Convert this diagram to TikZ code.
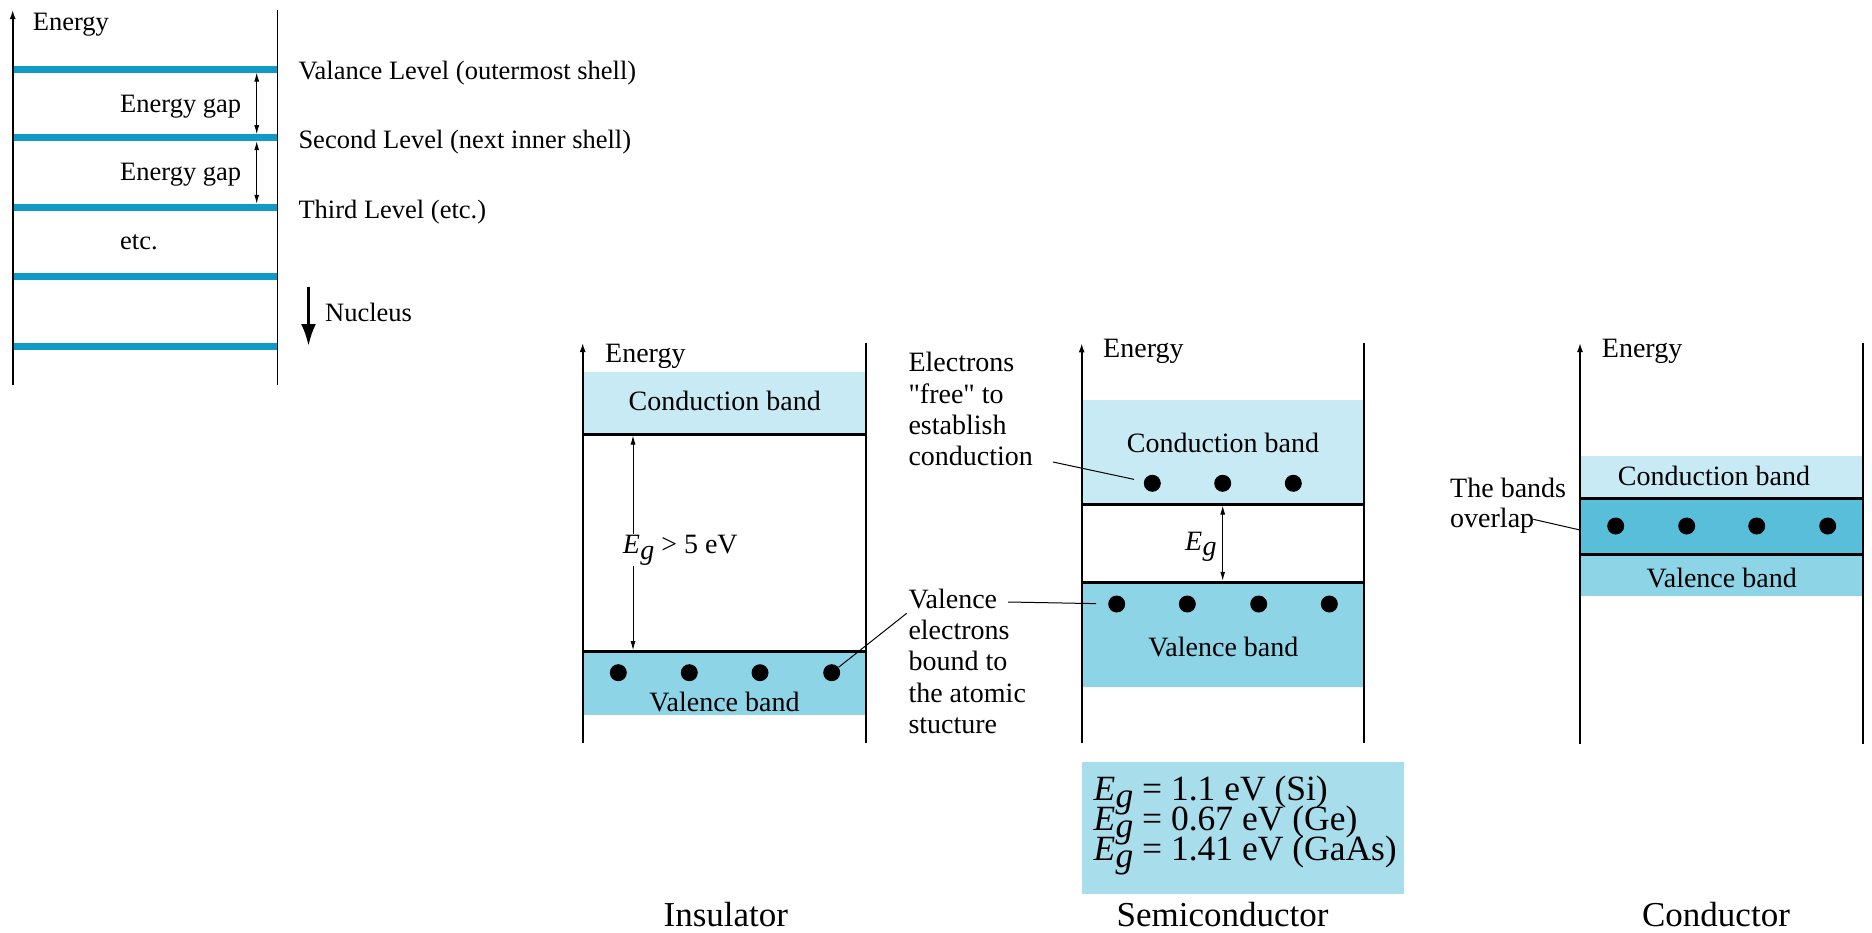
\documentclass[tikz,border=0pt]{standalone}
\usepackage{fontspec}
\setmainfont{Liberation Serif}
\newfontfamily\plainrm{Liberation Serif}
\usetikzlibrary{arrows.meta}
\definecolor{condcol}{RGB}{200,234,244}
\definecolor{valcol}{RGB}{142,212,231}
\definecolor{overcol}{RGB}{88,190,218}
\definecolor{boxcol}{RGB}{168,221,236}
\definecolor{levelcol}{RGB}{16,154,198}
\newcommand{\Eg}{\textit{E}\kern0.01em\raisebox{-0.45ex}{\textit{g}}}
\newcommand{\mystack}[2]{\vtop{\baselineskip=#1\lineskiplimit=-100pt\lineskip=0pt\relax #2}}
\begin{document}
\begin{tikzpicture}[x=1pt,y=-1pt,
  axis/.style={line width=1.6pt,-{Latex[length=9pt,width=6pt]}},
  wall/.style={line width=1.6pt},
  level/.style={line width=7pt,draw=levelcol},
  edge/.style={line width=3pt},
  gaparrow/.style={line width=1pt,{Latex[length=9pt,width=5pt]}-{Latex[length=9pt,width=5pt]}},
  leader/.style={line width=1pt},
  dot/.style={circle,fill=black,minimum size=17pt,inner sep=0pt},
  lbl/.style={inner sep=0pt,font=\fontsize{28}{31.3}\selectfont},
  sml/.style={inner sep=0pt,font=\fontsize{26.5}{30}\selectfont},
  big/.style={inner sep=0pt,font=\fontsize{35}{30}\selectfont}]
\useasboundingbox (0,0) rectangle (1872,932);

% ---------- atomic levels ----------
\foreach \y in {69,137.7,207.3,276.7,346.7} \draw[level] (12.7,\y) -- (277.3,\y);
\coordinate (a0b) at (12.7,385); \coordinate (a0t) at (12.7,10);
\draw[axis] (a0b) -- (a0t);
\coordinate (w0t) at (277.3,10); \coordinate (w0b) at (277.3,385);
\draw[wall] (w0t) -- (w0b);
\node[sml,anchor=base west] (e0) at (32.7,30) {Energy};
\node[sml,anchor=base west] (gap1) at (120,112) {Energy gap};
\node[sml,anchor=base west] (gap2) at (120,180.5) {Energy gap};
\node[sml,anchor=base west] (etc) at (120,249) {etc.};
\coordinate (g1a) at (256.7,72.5); \coordinate (g1b) at (256.7,134.2);
\coordinate (g2a) at (256.7,141.2); \coordinate (g2b) at (256.7,203.8);
\draw[gaparrow] (g1a) -- (g1b);
\draw[gaparrow] (g2a) -- (g2b);
\node[sml,anchor=base west] (lv1) at (298.3,79.3) {Valance Level (outermost shell)};
\node[sml,anchor=base west] (lv2) at (298.3,148.3) {Second Level (next inner shell)};
\node[sml,anchor=base west] (lv3) at (298.3,218.3) {Third Level (etc.)};
\coordinate (n1) at (308.5,286.7); \coordinate (n2) at (308.5,346);
\draw[line width=3pt,-{Latex[length=22pt,width=15pt]}] (n1) -- (n2);
\node[sml,anchor=base west] (nuc) at (325,321.7) {Nucleus};

% ---------- insulator ----------
\fill[condcol] (582.7,371.7) rectangle (865.7,434);
\fill[valcol] (582.7,651.7) rectangle (865.7,715);
\draw[edge] (582.7,434) -- (865.7,434);
\draw[edge] (582.7,651.7) -- (865.7,651.7);
\coordinate (a1b) at (582.7,743); \coordinate (a1t) at (582.7,343);
\draw[axis] (a1b) -- (a1t);
\coordinate (w1t) at (865.7,343); \coordinate (w1b) at (865.7,743);
\draw[wall] (w1t) -- (w1b);
\node[lbl,anchor=base west] (e1) at (605,362.3) {Energy};
\node[lbl,anchor=base] (ic) at (724.7,410.7) {Conduction band};
\node[lbl,anchor=base] (iv) at (724.5,711.7) {Valence band};
\coordinate (ig1) at (633,435.5); \coordinate (ig2) at (633,650.2);
\draw[gaparrow] (ig1) -- (ig2);
\node[lbl,anchor=base west,fill=white,inner sep=1pt] (ieg) at (621.7,553.3) {\Eg{} > 5 eV};
\foreach \x [count=\i] in {618.3,689.3,760,831.7} \node[dot] (i\i) at (\x,672.7) {};

% ---------- annotations ----------
\node[lbl,anchor=base west] (free) at (908.3,371.7) {\mystack{31.4pt}{\hbox{Electrons}\hbox{\plainrm "free" to}\hbox{establish}\hbox{conduction}}};
\node[lbl,anchor=base west] (bound) at (908.3,608.3) {\mystack{31.25pt}{\hbox{Valence}\hbox{electrons}\hbox{bound to}\hbox{the atomic}\hbox{stucture}}};
\coordinate (ivs) at (906.7,613.3);
\draw[leader] (ivs) -- (i4);

% ---------- semiconductor ----------
\fill[condcol] (1081.7,400) rectangle (1364,504);
\fill[valcol] (1081.7,582.3) rectangle (1364,686.7);
\draw[edge] (1081.7,504) -- (1364,504);
\draw[edge] (1081.7,582.3) -- (1364,582.3);
\coordinate (a2b) at (1081.7,743.3); \coordinate (a2t) at (1081.7,343.3);
\draw[axis] (a2b) -- (a2t);
\coordinate (w2t) at (1364,343.3); \coordinate (w2b) at (1364,743.3);
\draw[wall] (w2t) -- (w2b);
\node[lbl,anchor=base west] (e2) at (1103,357.3) {Energy};
\node[lbl,anchor=base] (sc) at (1223,452.7) {Conduction band};
\node[lbl,anchor=base] (sv) at (1223.3,656) {Valence band};
\foreach \x [count=\i] in {1152.3,1222.7,1293.3} \node[dot] (sc\i) at (\x,483.3) {};
\foreach \x [count=\i] in {1116.7,1187.3,1258.7,1329.3} \node[dot] (sv\i) at (\x,604) {};
\coordinate (sg1) at (1222.7,505.5); \coordinate (sg2) at (1222.7,580.8);
\draw[gaparrow] (sg1) -- (sg2);
\node[lbl,anchor=base west] (seg) at (1185,550) {\Eg};
\coordinate (fcs) at (1053,462);
\draw[leader,shorten >=10pt] (fcs) -- (sc1);
\coordinate (vcs) at (1008,602);
\draw[leader,shorten >=12pt] (vcs) -- (sv1);
\node[fill=boxcol,minimum width=321.6pt,minimum height=131.6pt,inner sep=0pt,anchor=north west] (box) at (1081.7,761.7) {};
\node[inner sep=0pt,font=\fontsize{35.5}{30}\selectfont,anchor=base west] (boxt) at (1093.3,800)
  {\mystack{30pt}{\hbox{\Eg{} = 1.1 eV (Si)}\hbox{\Eg{} = 0.67 eV (Ge)}\hbox{\Eg{} = 1.41 eV (GaAs)}}};

% ---------- conductor ----------
\fill[condcol] (1580,456) rectangle (1862.7,498.3);
\fill[overcol] (1580,498.3) rectangle (1862.7,554);
\fill[valcol] (1580,554) rectangle (1862.7,596);
\draw[edge] (1580,498.3) -- (1862.7,498.3);
\draw[edge] (1580,554) -- (1862.7,554);
\coordinate (a3b) at (1580,744); \coordinate (a3t) at (1580,343);
\draw[axis] (a3b) -- (a3t);
\coordinate (w3t) at (1862.7,343); \coordinate (w3b) at (1862.7,744);
\draw[wall] (w3t) -- (w3b);
\node[lbl,anchor=base west] (e3) at (1601.7,357.3) {Energy};
\node[lbl,anchor=base] (cc) at (1714,485.7) {Conduction band};
\node[lbl,anchor=base] (cv) at (1721.7,587.7) {Valence band};
\foreach \x [count=\i] in {1615.7,1686.7,1756.7,1827.7} \node[dot] (c\i) at (\x,526) {};
\node[lbl,anchor=base west] (ovl) at (1450,497.3) {\mystack{29.7pt}{\hbox{The bands}\hbox{overlap}}};
\coordinate (ovs) at (1533.3,519.3); \coordinate (ove) at (1580,530);
\draw[leader] (ovs) -- (ove);

% ---------- captions ----------
\node[big,anchor=base] (cap1) at (725.8,926.7) {Insulator};
\node[big,anchor=base] (cap2) at (1222.5,926.7) {Semiconductor};
\node[big,anchor=base] (cap3) at (1716,926.7) {Conductor};
\end{tikzpicture}
\end{document}
